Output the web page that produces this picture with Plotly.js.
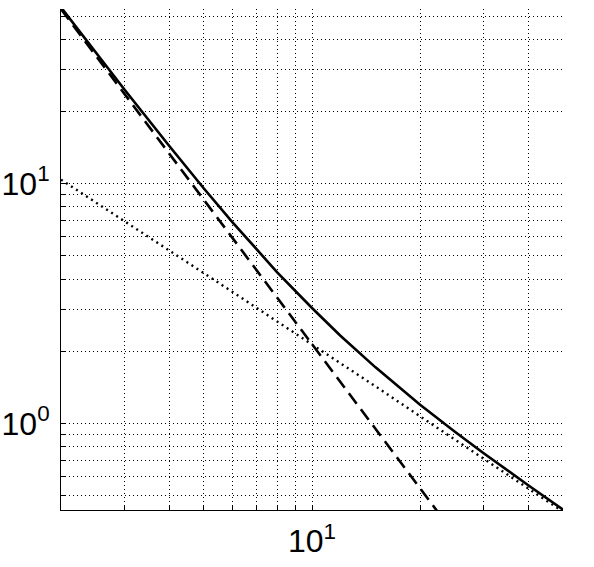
<!DOCTYPE html>
<html>
<head>
<meta charset="utf-8">
<script src="https://cdn.plot.ly/plotly-3.0.1.min.js"></script>
<style>
  html, body { margin: 0; padding: 0; background: #ffffff; }
  #chart { width: 594px; height: 567px; }
</style>
</head>
<body>
<div id="chart"></div>
<script>
  // values (log-log)
  const solidX = [2, 2.5, 3, 4, 5, 6, 7, 8, 10, 12, 15, 20, 25, 30, 40, 50];
  const solidY = [54.5, 35.3, 24.8, 14.4, 9.55, 6.92, 5.32, 4.27, 3.03, 2.32, 1.717, 1.196, 0.922, 0.752, 0.552, 0.4365];

  const dashX = [2, 3, 4, 5, 6, 8, 10, 12, 15, 20, 23];
  const dashY = [53.5, 23.8, 13.4, 8.56, 5.94, 3.34, 2.14, 1.49, 0.951, 0.535, 0.405];

  const dotX = [2, 3, 4, 5, 6, 8, 10, 15, 20, 30, 40, 50];
  const dotY = [10.4, 7.0, 5.27, 4.24, 3.54, 2.66, 2.14, 1.43, 1.07, 0.713, 0.535, 0.428];

  const xGrid = [2, 3, 4, 5, 6, 7, 8, 9, 10, 20, 30, 40, 50];
  const xGridText = ["", "", "", "", "", "", "", "", "10<sup>1</sup>", "", "", "", ""];
  const yGrid = [0.5, 0.6, 0.7, 0.8, 0.9, 1, 2, 3, 4, 5, 6, 7, 8, 9, 10, 20, 30, 40, 50];
  const yGridText = ["", "", "", "", "", "10<sup>0</sup>", "", "", "", "", "", "", "", "", "10<sup>1</sup>", "", "", "", ""];

  const X_MIN = 2;
  const X_MAX = 50;
  const Y_MIN = 0.435;
  const Y_MAX = 53.6;

  const traces = [
    {
      type: "scatter",
      mode: "lines",
      x: solidX,
      y: solidY,
      line: { color: "#000000", width: 2.6 },
      hoverinfo: "skip"
    },
    {
      type: "scatter",
      mode: "lines",
      x: dashX,
      y: dashY,
      line: { color: "#000000", width: 2.6, dash: "13px,7px" },
      hoverinfo: "skip"
    },
    {
      type: "scatter",
      mode: "lines",
      x: dotX,
      y: dotY,
      line: { color: "#000000", width: 2.4, dash: "2px,4px" },
      hoverinfo: "skip"
    }
  ];

  const gridStyle = {
    showgrid: true,
    gridcolor: "#000000",
    gridwidth: 1,
    griddash: "1px,3px",
    zeroline: false,
    showline: true,
    linecolor: "#000000",
    linewidth: 1,
    mirror: false,
    ticks: "inside",
    ticklen: 4,
    tickcolor: "#000000",
    tickmode: "array",
    fixedrange: true
  };

  const layout = {
    width: 594,
    height: 567,
    margin: { l: 61, r: 31, t: 9, b: 57 },
    paper_bgcolor: "#ffffff",
    plot_bgcolor: "#ffffff",
    font: { family: "'Liberation Sans', Arial, sans-serif", size: 32, color: "#000000" },
    showlegend: false,
    xaxis: Object.assign({}, gridStyle, {
      type: "log",
      range: [Math.log10(X_MIN), Math.log10(X_MAX)],
      tickvals: xGrid,
      ticktext: xGridText,
      ticklabelstandoff: 3
    }),
    yaxis: Object.assign({}, gridStyle, {
      type: "log",
      range: [Math.log10(Y_MIN), Math.log10(Y_MAX)],
      tickvals: yGrid,
      ticktext: yGridText,
      ticklabelstandoff: 4
    })
  };

  Plotly.newPlot("chart", traces, layout, { displayModeBar: false, staticPlot: true });
</script>
</body>
</html>
